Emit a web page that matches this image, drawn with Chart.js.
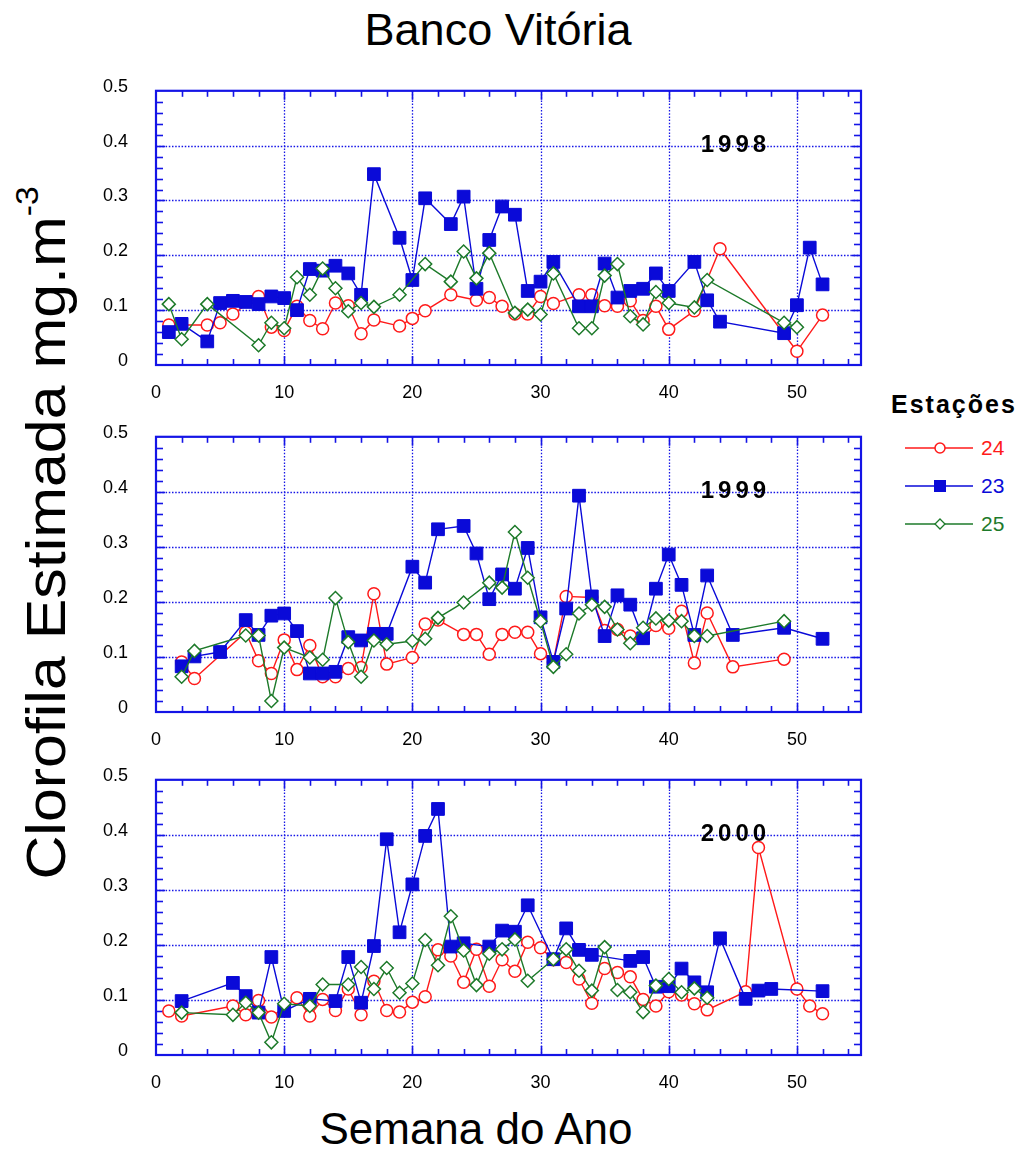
<!DOCTYPE html>
<html lang="pt-BR">
<head>
<meta charset="utf-8">
<title>Banco Vitória</title>
<script src="https://cdn.jsdelivr.net/npm/chart.js@4.4.1/dist/chart.umd.min.js"></script>
<style>
    body { margin: 0; background: #fff; font-family: "Liberation Sans", Arial, sans-serif; }
    #painel { position: relative; width: 1026px; height: 1151px; overflow: hidden; }
    canvas { position: absolute; left: 0; }
    .titulo { position: absolute; left: 0; width: 996px; top: 4px; text-align: center; font-size: 45px; }
    .eixoX { position: absolute; left: 0; width: 952px; top: 1104px; text-align: center; font-size: 44px; }
    .eixoY { position: absolute; left: 44px; top: 533px; font-size: 58px; white-space: nowrap;
             transform: translate(-50%, -50%) rotate(-90deg) scale(1.05, 0.97); }
    .eixoY sup { font-size: 32px; vertical-align: 28px; }
    #legenda { position: absolute; left: 891px; top: 390px; }
    #legenda .cab { font-weight: bold; font-size: 25px; letter-spacing: 2px; margin-bottom: 10px; }
    #legenda .item { display: flex; align-items: center; height: 38px; font-size: 21px; margin-left: 13px; }
    #legenda svg { margin-right: 7px; }
</style>
</head>
<body>
<div id="painel">
    <div class="titulo">Banco Vitória</div>
    <div class="eixoY">Clorofila Estimada mg.m<sup>-3</sup></div>
    <div class="eixoX">Semana do Ano</div>
    <canvas id="g1998" width="880" height="340" style="top:60px"></canvas>
    <canvas id="g1999" width="880" height="341" style="top:406px"></canvas>
    <canvas id="g2000" width="880" height="341" style="top:749px"></canvas>
    <div id="legenda"></div>
</div>

<script>
"use strict";

/* ===== DADOS ===== */
const anos = ["1998", "1999", "2000"];
const estacoes = ["24", "23", "25"];
const marcasX = [0, 10, 20, 30, 40, 50];
const marcasY = [0, 0.1, 0.2, 0.3, 0.4, 0.5];
const rotulosY = ["0", "0.1", "0.2", "0.3", "0.4", "0.5"];

// 1998
const semanas1998_e24 = [1, 4, 5, 6, 8, 9, 10, 11, 12, 13, 14, 15, 16, 17, 19, 20, 21, 23, 25, 26, 27, 28, 29, 30, 31, 33, 34, 35, 36, 37, 38, 39, 40, 42, 44, 50, 52];
const clorofila1998_e24 = [0.073, 0.073, 0.077, 0.093, 0.125, 0.069, 0.063, 0.107, 0.081, 0.066, 0.113, 0.108, 0.057, 0.082, 0.071, 0.085, 0.099, 0.128, 0.118, 0.123, 0.107, 0.093, 0.093, 0.125, 0.112, 0.128, 0.128, 0.108, 0.107, 0.117, 0.081, 0.107, 0.065, 0.099, 0.212, 0.025, 0.091];
const semanas1998_e23 = [1, 2, 4, 5, 6, 7, 8, 9, 10, 11, 12, 13, 14, 15, 16, 17, 19, 20, 21, 23, 24, 25, 26, 27, 28, 29, 30, 31, 33, 34, 35, 36, 37, 38, 39, 40, 42, 43, 44, 49, 50, 51, 52];
const clorofila1998_e23 = [0.06, 0.075, 0.043, 0.113, 0.117, 0.115, 0.111, 0.125, 0.122, 0.1, 0.175, 0.172, 0.181, 0.167, 0.128, 0.348, 0.232, 0.155, 0.304, 0.257, 0.307, 0.139, 0.228, 0.289, 0.274, 0.135, 0.152, 0.188, 0.107, 0.107, 0.185, 0.123, 0.135, 0.139, 0.167, 0.135, 0.188, 0.118, 0.079, 0.058, 0.109, 0.214, 0.147];
const semanas1998_e25 = [1, 2, 4, 8, 9, 10, 11, 12, 13, 14, 15, 16, 17, 19, 21, 23, 24, 25, 26, 28, 29, 30, 31, 33, 34, 35, 36, 37, 38, 39, 40, 42, 43, 49, 50];
const clorofila1998_e25 = [0.111, 0.047, 0.111, 0.036, 0.077, 0.067, 0.16, 0.128, 0.176, 0.14, 0.098, 0.113, 0.106, 0.128, 0.184, 0.152, 0.207, 0.158, 0.204, 0.095, 0.101, 0.092, 0.167, 0.067, 0.067, 0.163, 0.184, 0.089, 0.074, 0.133, 0.113, 0.105, 0.155, 0.077, 0.069];

// 1999
const semanas1999_e24 = [2, 3, 7, 8, 9, 10, 11, 12, 13, 14, 15, 16, 17, 18, 20, 21, 22, 24, 25, 26, 27, 28, 29, 30, 31, 32, 34, 35, 36, 37, 38, 39, 40, 41, 42, 43, 45, 49];
const clorofila1999_e24 = [0.091, 0.061, 0.145, 0.093, 0.07, 0.131, 0.077, 0.121, 0.064, 0.064, 0.079, 0.081, 0.215, 0.087, 0.099, 0.16, 0.167, 0.141, 0.141, 0.105, 0.141, 0.145, 0.145, 0.106, 0.091, 0.21, 0.208, 0.148, 0.15, 0.138, 0.135, 0.157, 0.152, 0.183, 0.089, 0.18, 0.082, 0.096];
const semanas1999_e23 = [2, 3, 5, 7, 8, 9, 10, 11, 12, 13, 14, 15, 16, 17, 18, 20, 21, 22, 24, 25, 26, 27, 28, 29, 30, 31, 32, 33, 34, 35, 36, 37, 38, 39, 40, 41, 42, 43, 45, 49, 52];
const clorofila1999_e23 = [0.083, 0.101, 0.109, 0.167, 0.14, 0.175, 0.179, 0.147, 0.07, 0.07, 0.073, 0.136, 0.13, 0.142, 0.142, 0.264, 0.235, 0.332, 0.338, 0.288, 0.205, 0.25, 0.224, 0.298, 0.172, 0.091, 0.188, 0.393, 0.21, 0.138, 0.212, 0.195, 0.134, 0.224, 0.286, 0.231, 0.14, 0.248, 0.14, 0.153, 0.133];
const semanas1999_e25 = [2, 3, 7, 8, 9, 10, 12, 13, 14, 15, 16, 17, 18, 20, 21, 22, 24, 26, 27, 28, 29, 30, 31, 32, 33, 34, 35, 36, 37, 38, 39, 40, 41, 42, 43, 49];
const clorofila1999_e25 = [0.064, 0.111, 0.139, 0.139, 0.02, 0.117, 0.099, 0.095, 0.207, 0.127, 0.064, 0.13, 0.123, 0.129, 0.133, 0.171, 0.199, 0.235, 0.226, 0.327, 0.244, 0.165, 0.082, 0.105, 0.179, 0.195, 0.191, 0.15, 0.125, 0.153, 0.17, 0.166, 0.165, 0.138, 0.138, 0.165];

// 2000
const semanas2000_e24 = [1, 2, 6, 7, 8, 9, 11, 12, 13, 14, 15, 16, 17, 18, 19, 20, 21, 22, 23, 24, 25, 26, 27, 28, 29, 30, 31, 32, 33, 34, 35, 36, 37, 38, 39, 40, 41, 42, 43, 46, 47, 50, 51, 52];
const clorofila2000_e24 = [0.08, 0.071, 0.089, 0.073, 0.099, 0.069, 0.104, 0.071, 0.101, 0.081, 0.12, 0.073, 0.134, 0.081, 0.078, 0.096, 0.106, 0.191, 0.18, 0.132, 0.192, 0.125, 0.173, 0.152, 0.205, 0.195, 0.173, 0.168, 0.138, 0.094, 0.157, 0.15, 0.142, 0.101, 0.089, 0.115, 0.109, 0.093, 0.082, 0.115, 0.377, 0.12, 0.089, 0.075];
const semanas2000_e23 = [2, 6, 7, 8, 9, 10, 12, 14, 15, 16, 17, 18, 19, 20, 21, 22, 23, 24, 26, 27, 28, 29, 31, 32, 33, 34, 37, 38, 39, 40, 41, 42, 43, 44, 46, 47, 48, 52];
const clorofila2000_e23 = [0.098, 0.131, 0.107, 0.077, 0.178, 0.08, 0.102, 0.098, 0.178, 0.095, 0.198, 0.392, 0.223, 0.31, 0.398, 0.447, 0.197, 0.203, 0.197, 0.226, 0.224, 0.272, 0.174, 0.23, 0.191, 0.182, 0.171, 0.178, 0.124, 0.125, 0.157, 0.132, 0.114, 0.212, 0.102, 0.117, 0.12, 0.116];
const semanas2000_e25 = [2, 6, 7, 8, 9, 10, 12, 13, 15, 16, 17, 18, 19, 20, 21, 22, 23, 24, 25, 26, 27, 28, 29, 31, 32, 33, 34, 35, 36, 37, 38, 39, 40, 41, 42, 43];
const clorofila2000_e25 = [0.077, 0.073, 0.095, 0.077, 0.023, 0.093, 0.089, 0.128, 0.128, 0.16, 0.12, 0.158, 0.113, 0.13, 0.209, 0.163, 0.252, 0.19, 0.127, 0.184, 0.192, 0.21, 0.135, 0.174, 0.192, 0.153, 0.117, 0.196, 0.118, 0.114, 0.078, 0.126, 0.138, 0.114, 0.121, 0.104];

/* ===== ESTILO ===== */
const FONTE = '"Liberation Sans", Arial, sans-serif';
const AZUL_EIXO = "#1414e6";
const cores = { "24": "#ff1a1a", "23": "#0a0ad8", "25": "#1d7a2a" };

const serie = (semanas, valores) => semanas.map((s, i) => ({ x: s, y: valores[i] }));

function conjuntos(ano) {
    const dados = {
        "1998": [serie(semanas1998_e24, clorofila1998_e24), serie(semanas1998_e23, clorofila1998_e23), serie(semanas1998_e25, clorofila1998_e25)],
        "1999": [serie(semanas1999_e24, clorofila1999_e24), serie(semanas1999_e23, clorofila1999_e23), serie(semanas1999_e25, clorofila1999_e25)],
        "2000": [serie(semanas2000_e24, clorofila2000_e24), serie(semanas2000_e23, clorofila2000_e23), serie(semanas2000_e25, clorofila2000_e25)]
    }[ano];

    // verde por cima, depois azul, vermelho por baixo
    return [
        { label: "24", data: dados[0], order: 3, borderColor: cores["24"], backgroundColor: "#fff",
          pointStyle: "circle", pointRadius: 6, pointBorderWidth: 1.5, borderWidth: 1.4 },
        { label: "23", data: dados[1], order: 2, borderColor: cores["23"], backgroundColor: cores["23"],
          pointStyle: "rect", pointRadius: 9, pointBorderWidth: 1, borderWidth: 1.4 },
        { label: "25", data: dados[2], order: 1, borderColor: cores["25"], backgroundColor: "#fff",
          pointStyle: "rectRot", pointRadius: 6.5, pointBorderWidth: 1.5, borderWidth: 1.4 }
    ];
}

/* grade pontilhada, marcas internas, moldura e o ano */
const moldura = {
    id: "moldura",
    beforeDatasetsDraw(chart) {
        const { ctx, chartArea: a, scales: { x, y } } = chart;
        const linha = (x1, y1, x2, y2) => { ctx.beginPath(); ctx.moveTo(x1, y1); ctx.lineTo(x2, y2); ctx.stroke(); };
        ctx.save();
        ctx.strokeStyle = AZUL_EIXO;

        ctx.lineWidth = 1.3;
        ctx.setLineDash([1.5, 1.7]);
        marcasX.forEach(v => {
            const px = Math.round(x.getPixelForValue(v)) + 0.5;
            if (px > a.left + 2 && px < a.right - 2) linha(px, a.top, px, a.bottom);
        });
        marcasY.forEach(v => {
            const py = Math.round(y.getPixelForValue(v)) + 0.5;
            if (py > a.top + 2 && py < a.bottom - 2) linha(a.left, py, a.right, py);
        });
        ctx.setLineDash([]);

        ctx.lineWidth = 1.6;
        for (let i = 1; i < 28; i++) {
            const px = Math.round(x.getPixelForValue(i * 2)) + 0.5;
            const t = i % 5 === 0 ? 9 : 6;
            linha(px, a.bottom, px, a.bottom - t);
            linha(px, a.top, px, a.top + t);
        }
        for (let i = 1; i < 25; i++) {
            const py = Math.round(y.getPixelForValue(i * 0.02)) + 0.5;
            const t = i % 5 === 0 ? 9 : 7;
            linha(a.left, py, a.left + t, py);
            linha(a.right, py, a.right - t, py);
        }

        ctx.lineWidth = 2.2;
        ctx.strokeRect(a.left, a.top, a.right - a.left, a.bottom - a.top);
        ctx.restore();
    },
    afterDraw(chart, args, opts) {
        const { ctx, scales: { x, y } } = chart;
        ctx.save();
        ctx.font = "bold 24px " + FONTE;
        if ("letterSpacing" in ctx) ctx.letterSpacing = "4px";
        ctx.fillStyle = "#000";
        ctx.textAlign = "center";
        ctx.textBaseline = "middle";
        ctx.fillText(opts.ano, x.getPixelForValue(45.2), y.getPixelForValue(0.4));
        ctx.restore();
    }
};

function criar(ano) {
    const canvas = document.getElementById("g" + ano);
    return new Chart(canvas, {
        type: "line",
        data: { datasets: conjuntos(ano) },
        plugins: [moldura],
        options: {
            responsive: false,
            animation: false,
            devicePixelRatio: 1,
            layout: { padding: { top: 29, right: 19, left: 0, bottom: 0 } },
            plugins: {
                legend: { display: false },
                tooltip: { enabled: false },
                moldura: { ano: ano }
            },
            elements: { line: { tension: 0 } },
            scales: {
                x: {
                    type: "linear", min: 0, max: 55,
                    afterBuildTicks: s => { s.ticks = marcasX.map(v => ({ value: v })); },
                    afterFit: s => { s.height = 35; },
                    grid: { display: false },
                    border: { display: false },
                    ticks: { color: "#000", padding: 9, maxRotation: 0, font: { family: FONTE, size: 18 } }
                },
                y: {
                    type: "linear", min: 0, max: 0.5,
                    afterBuildTicks: s => { s.ticks = marcasY.map(v => ({ value: v })); },
                    afterFit: s => { s.width = 156; },
                    grid: { display: false },
                    border: { display: false },
                    ticks: {
                        color: "#000", padding: 20, labelOffset: -4,
                        font: { family: FONTE, size: 18 },
                        callback: (v, i) => rotulosY[i]
                    }
                }
            }
        }
    });
}

/* ===== LEGENDA ===== */
function marcador(est) {
    const c = cores[est];
    let forma = "";
    if (est === "24") forma = `<circle cx="36" cy="10" r="5" fill="#fff" stroke="${c}" stroke-width="1.5"/>`;
    if (est === "23") forma = `<rect x="30" y="4" width="12" height="12" fill="${c}"/>`;
    if (est === "25") forma = `<path d="M36 5 L41 10 L36 15 L31 10 Z" fill="#fff" stroke="${c}" stroke-width="1.3"/>`;
    return `<svg width="70" height="20"><line x1="1" y1="10" x2="69" y2="10" stroke="${c}" stroke-width="1.4"/>${forma}</svg>`;
}

function legenda() {
    const el = document.getElementById("legenda");
    el.innerHTML = `<div class="cab">Estações</div>` +
        estacoes.map(e => `<div class="item" style="color:${cores[e]}">${marcador(e)}${e}</div>`).join("");
}

anos.forEach(criar);
legenda();
</script>
</body>
</html>
